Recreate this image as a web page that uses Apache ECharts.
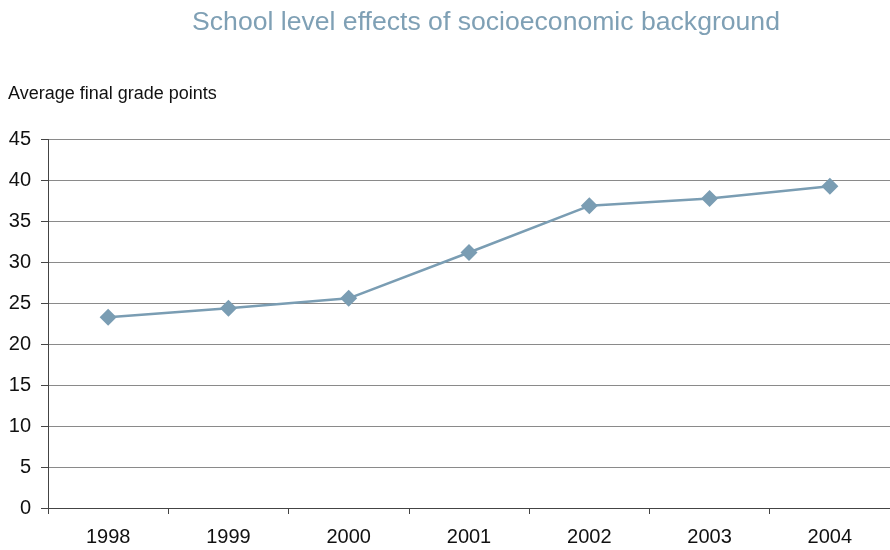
<!DOCTYPE html>
<html>
<head>
<meta charset="utf-8">
<script src="https://cdn.jsdelivr.net/npm/echarts@6/dist/echarts.min.js"></script>
<style>
  html, body { margin: 0; padding: 0; background: #fff; }
  #chart { width: 890px; height: 550px; }
</style>
</head>
<body>
<div id="chart"></div>
<script>
const years = ['1998', '1999', '2000', '2001', '2002', '2003', '2004'];
const gradePoints = [23.3, 24.4, 25.6, 31.2, 36.9, 37.8, 39.3];
const yTicks = { min: 0, max: 45, interval: 5 };

const lineColor = '#7a9db3';
const font = '"Liberation Sans", Arial, sans-serif';

const chart = echarts.init(document.getElementById('chart'), null, { renderer: 'canvas' });
chart.setOption({
  animation: false,
  title: {
    text: 'School level effects of socioeconomic background',
    left: 481, top: 4, textAlign: 'center',
    textStyle: { color: '#7fa0b5', fontFamily: font, fontSize: 26.6, fontWeight: 'normal' }
  },
  graphic: [{
    type: 'text', left: 8, top: 85,
    style: { text: 'Average final grade points', fill: '#111', font: '18px ' + font }
  }],
  grid: { left: 48, top: 139.5, width: 843, bottom: 42, containLabel: false },
  xAxis: {
    type: 'category',
    data: years,
    boundaryGap: true,
    axisLine: { lineStyle: { color: '#444', width: 1 } },
    axisTick: { show: true, length: 6, inside: false, lineStyle: { color: '#444' } },
    axisLabel: { color: '#111', fontFamily: font, fontSize: 20, margin: 19 },
    splitLine: { show: false }
  },
  yAxis: {
    type: 'value',
    min: yTicks.min, max: yTicks.max, interval: yTicks.interval,
    axisLine: { show: true, lineStyle: { color: '#444', width: 1 } },
    axisTick: { show: true, length: 7, lineStyle: { color: '#444' } },
    axisLabel: { color: '#111', fontFamily: font, fontSize: 20, margin: 17 },
    splitLine: { show: true, lineStyle: { color: '#8a8a8a', width: 1 } }
  },
  series: [{
    type: 'line',
    data: gradePoints,
    symbol: 'diamond',
    symbolSize: 17,
    lineStyle: { color: lineColor, width: 2.5 },
    itemStyle: { color: lineColor }
  }]
});
</script>
</body>
</html>
